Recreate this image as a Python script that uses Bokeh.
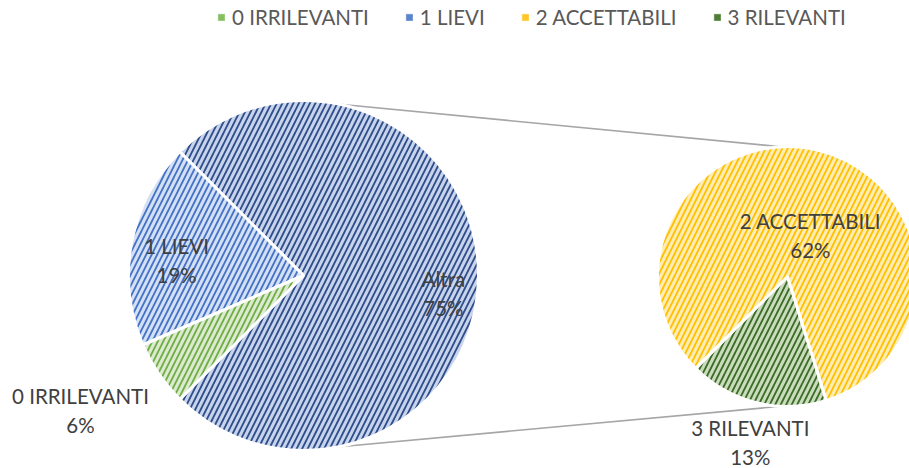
import math
from bokeh.plotting import figure
from bokeh.models import ColumnDataSource, Range1d, Legend, LegendItem
from bokeh.core.properties import value
from bokeh.embed import file_html
from bokeh.resources import INLINE

# ---------------- data ----------------
main_labels = ["Altra", "1 LIEVI", "0 IRRILEVANTI"]
main_values = [75, 19, 6]            # percent of total
sub_labels = ["3 RILEVANTI", "2 ACCETTABILI"]
sub_values = [13, 62]                # percent of total (together = "Altra")
legend_labels = ["0 IRRILEVANTI", "1 LIEVI", "2 ACCETTABILI", "3 RILEVANTI"]

# ---------------- style / layout ----------------
main_fill = ["#c8d4ec", "#d4e0f6", "#dcebd0"]
main_hatch = ["#2e4d8a", "#4472c4", "#70ad47"]
sub_fill = ["#c9dcbc", "#ffedb5"]
sub_hatch = ["#3d6b28", "#ffc000"]
legend_colors = ["#84c060", "#5a84cf", "#ffc629", "#4f7d37"]
main_lab_r = [0.806, 0.73, 1.49]
main_lab_da = [-7.3, 4.1, -3.0]
sub_lab_r = [1.31, 0.36]
sub_lab_da = [1.2, -15.5]

FONT = "Lato"
PAGE_W, PAGE_H = 909, 468
cx1, cy1, R1 = 303, PAGE_H - 275, 175
cx2, cy2, R2 = 787, PAGE_H - 276, 130
sub_start = 225.0

p = figure(width=PAGE_W, height=PAGE_H, output_backend="svg", toolbar_location=None,
           x_range=Range1d(0, PAGE_W), y_range=Range1d(0, PAGE_H), min_border=0)
p.axis.visible = False
p.grid.visible = False
p.outline_line_color = None
p.background_fill_color = "white"

def slices(vals, start):
    total = sum(vals)
    starts, ends = [], []
    a = start
    for v in vals:
        starts.append(math.radians(a))
        a += 360.0 * v / total
        ends.append(math.radians(a))
    return starts, ends

# main pie: "Altra" centred on the right
span_other = 360.0 * main_values[0] / sum(main_values)
ms, me = slices(main_values, -span_other / 2)
ss, se = slices(sub_values, sub_start)

src1 = ColumnDataSource(dict(label=main_labels, start=ms, end=me,
                             fill=main_fill, hatch=main_hatch))
src2 = ColumnDataSource(dict(label=sub_labels, start=ss, end=se,
                             fill=sub_fill, hatch=sub_hatch))

# connector lines
top_a1, top_a2 = 78.0, 93.0
seg = ColumnDataSource(dict(
    x0=[cx1 + R1 * math.cos(math.radians(top_a1)), cx1 + R1 * math.cos(math.radians(-top_a1))],
    y0=[cy1 + R1 * math.sin(math.radians(top_a1)), cy1 + R1 * math.sin(math.radians(-top_a1))],
    x1=[cx2 + R2 * math.cos(math.radians(top_a2)), cx2 + R2 * math.cos(math.radians(-top_a2))],
    y1=[cy2 + R2 * math.sin(math.radians(top_a2)), cy2 + R2 * math.sin(math.radians(-top_a2))],
))
p.segment("x0", "y0", "x1", "y1", source=seg, line_color="#a6a6a6", line_width=1.6)

r1 = p.wedge(x=cx1, y=cy1, radius=R1, start_angle="start", end_angle="end",
             source=src1, fill_color="fill",
             hatch_pattern="/", hatch_color="hatch", hatch_scale=11, hatch_weight=1.8,
             line_color="white", line_width=3)
r2 = p.wedge(x=cx2, y=cy2, radius=R2, start_angle="start", end_angle="end",
             source=src2, fill_color="fill",
             hatch_pattern="/", hatch_color="hatch", hatch_scale=11, hatch_weight=1.8,
             line_color="white", line_width=3)

# data labels
def label_pos(labels, vals, starts, ends, rf, da, cx, cy, R):
    total = sum(main_values)
    xs, ys, txt = [], [], []
    for lab, v, s, e, f, d in zip(labels, vals, starts, ends, rf, da):
        a = (s + e) / 2 + math.radians(d)
        xs.append(cx + f * R * math.cos(a))
        ys.append(cy + f * R * math.sin(a))
        txt.append(f"{lab}\n{round(100 * v / total)}%")
    return xs, ys, txt

x1, y1, t1 = label_pos(main_labels, main_values, ms, me, main_lab_r, main_lab_da, cx1, cy1, R1)
x2, y2, t2 = label_pos(sub_labels, sub_values, ss, se, sub_lab_r, sub_lab_da, cx2, cy2, R2)
lab_src = ColumnDataSource(dict(x=x1 + x2, y=y1 + y2, text=t1 + t2))
p.text(x="x", y="y", text="text", source=lab_src, text_align="center",
       text_baseline="middle", text_font=value(FONT), text_font_size="20.5px",
       text_color="#404040", text_line_height=1.22)

# legend (solid swatches via off-screen quads)
items = []
for lab, col in zip(legend_labels, legend_colors):
    q = p.quad(left=[-50], right=[-40], bottom=[-50], top=[-40],
               fill_color=col, line_color=col, line_width=0.5)
    items.append(LegendItem(label=lab, renderers=[q]))
legend = Legend(items=items, orientation="horizontal", location=(217, 439),
                label_text_font=FONT, label_text_font_size="20.5px",
                label_text_color="#595959", glyph_width=8, glyph_height=8,
                spacing=36, label_standoff=7, padding=0, margin=0,
                border_line_color=None, background_fill_alpha=0)
p.add_layout(legend, "center")

open("out.html", "w").write(file_html(p, INLINE))
